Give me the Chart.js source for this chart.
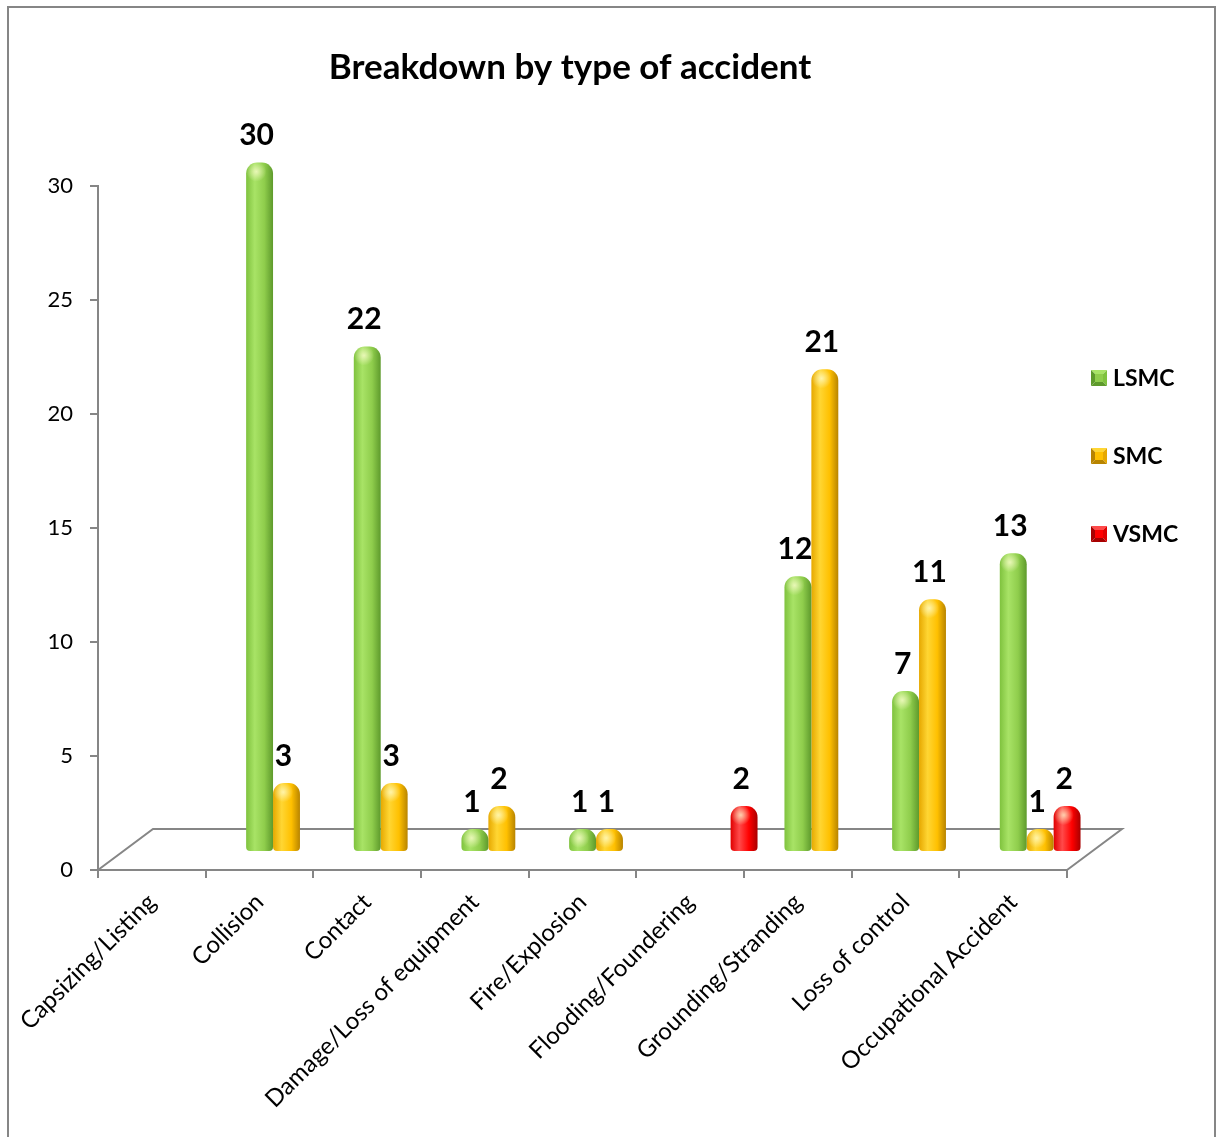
<!DOCTYPE html>
<html>
<head>
<meta charset="utf-8">
<title>Breakdown by type of accident</title>
<script src="https://cdn.jsdelivr.net/npm/chart.js@4.4.1/dist/chart.umd.min.js"></script>
<style>
  html, body { margin: 0; padding: 0; background: #ffffff; }
  canvas { display: block; }
</style>
</head>
<body>
<canvas id="chart" width="1217" height="1137"></canvas>
<script>
// Accident categories
const categories = [
  'Capsizing/Listing',
  'Collision',
  'Contact',
  'Damage/Loss of equipment',
  'Fire/Explosion',
  'Flooding/Foundering',
  'Grounding/Stranding',
  'Loss of control',
  'Occupational Accident'
];

// Number of accidents per vessel size class (null = no bar)
const lsmcValues = [null, 30, 22, 1, 1, null, 12, 7, 13];
const smcValues  = [null, 3, 3, 2, 1, null, 21, 11, 1];
const vsmcValues = [null, null, null, null, null, 2, null, null, 2];

const seriesNames = ['LSMC', 'SMC', 'VSMC'];

// Value axis ticks
const yMin = 0;
const yMax = 30;
const yStep = 5;

// Cylinder shading: [left edge, highlight, body, right edge]
const palette = {
  LSMC: ['#7fc23e', '#a8e366', '#8fcd4c', '#5e9a2c'],
  SMC:  ['#e6a800', '#ffd633', '#ffc000', '#b88400'],
  VSMC: ['#e00000', '#ff4a4a', '#ff0000', '#a80000']
};

const FONT = 'Lato, "Open Sans", "DejaVu Sans", sans-serif';
const GRAY = '#868686';
const CAT_PCT = 0.75;

// 3D depth: bars stand halfway into the floor
const DEPTH_X = 27;
const DEPTH_Y = 18;
const DEPTH_STRETCH = 1.008;
const FLOOR_X = 55;
const FLOOR_Y = 41;

function cylinderFill(name) {
  const c = palette[name];
  return function (ctx) {
    const chart = ctx.chart;
    const xs = chart.scales && chart.scales.x;
    if (ctx.type !== 'data' || !xs || xs.ticks == null || xs.ticks.length < 2) return c[2];
    const step = xs.getPixelForValue(1) - xs.getPixelForValue(0);
    const bw = step * CAT_PCT / 3;
    const cx = xs.getPixelForValue(ctx.dataIndex) + (ctx.datasetIndex - 1) * bw;
    const left = cx - bw / 2;
    if (!isFinite(left)) return c[2];
    const g = chart.ctx.createLinearGradient(left, 0, left + bw, 0);
    g.addColorStop(0, c[0]);
    g.addColorStop(0.32, c[1]);
    g.addColorStop(0.68, c[2]);
    g.addColorStop(1, c[3]);
    return g;
  };
}

function makeDataset(name, values) {
  return {
    label: name,
    data: values,
    backgroundColor: cylinderFill(name),
    borderWidth: 0,
    borderSkipped: false,
    borderRadius: { topLeft: 11, topRight: 11, bottomLeft: 4, bottomRight: 4 },
    categoryPercentage: CAT_PCT,
    barPercentage: 1.0,
    clip: false
  };
}

// Outer frame of the chart
const framePlugin = {
  id: 'frame',
  beforeDraw(chart) {
    const ctx = chart.ctx;
    ctx.save();
    ctx.fillStyle = '#ffffff';
    ctx.fillRect(0, 0, chart.width, chart.height);
    ctx.strokeStyle = GRAY;
    ctx.lineWidth = 2;
    ctx.strokeRect(8, 7, chart.width - 10, chart.height + 20);
    ctx.restore();
  }
};

// Floor of the 3D plot, then shift the bars into depth
const depthPlugin = {
  id: 'depth',
  beforeDatasetsDraw(chart) {
    const { ctx, chartArea: a } = chart;
    ctx.save();
    ctx.strokeStyle = GRAY;
    ctx.lineWidth = 2;
    ctx.beginPath();
    ctx.moveTo(a.left, a.bottom);
    ctx.lineTo(a.left + FLOOR_X, a.bottom - FLOOR_Y);
    ctx.lineTo(a.right + FLOOR_X, a.bottom - FLOOR_Y);
    ctx.lineTo(a.right, a.bottom);
    ctx.stroke();
    ctx.translate(DEPTH_X, -DEPTH_Y + a.bottom);
    ctx.scale(1, DEPTH_STRETCH);
    ctx.translate(0, -a.bottom);
  },
  afterDatasetsDraw(chart) {
    const ctx = chart.ctx;
    // soft highlight on each cylinder cap
    chart.data.datasets.forEach((ds, di) => {
      const meta = chart.getDatasetMeta(di);
      meta.data.forEach((el, i) => {
        if (ds.data[i] == null) return;
        const hx = el.x - el.width * 0.12;
        const hy = el.y + 9;
        const g = ctx.createRadialGradient(hx, hy, 0, hx, hy, 10);
        g.addColorStop(0, 'rgba(255,255,210,0.75)');
        g.addColorStop(1, 'rgba(255,255,210,0)');
        ctx.fillStyle = g;
        ctx.beginPath();
        ctx.arc(hx, hy, 10, 0, Math.PI * 2);
        ctx.fill();
      });
    });
    // value labels above the bars
    ctx.fillStyle = '#000000';
    ctx.font = 'bold 30px ' + FONT;
    ctx.textAlign = 'center';
    ctx.textBaseline = 'alphabetic';
    chart.data.datasets.forEach((ds, di) => {
      const meta = chart.getDatasetMeta(di);
      meta.data.forEach((el, i) => {
        const v = ds.data[i];
        if (v == null) return;
        ctx.fillText(String(v), el.x - 3, el.y - 17);
      });
    });
    ctx.restore();
  }
};

// Legend at the right with bevelled colour keys
const legendPlugin = {
  id: 'sideLegend',
  afterDraw(chart) {
    const { ctx, chartArea: a } = chart;
    ctx.save();
    const x0 = a.right + 24;
    const size = 16;
    chart.data.datasets.forEach((ds, i) => {
      const c = palette[ds.label];
      const cy = a.top + 192 + i * 78;
      const y0 = cy - size / 2;
      const s = size;
      const m = 4;
      const face = (pts, col) => {
        ctx.fillStyle = col;
        ctx.beginPath();
        ctx.moveTo(pts[0][0], pts[0][1]);
        for (let k = 1; k < pts.length; k++) ctx.lineTo(pts[k][0], pts[k][1]);
        ctx.closePath();
        ctx.fill();
      };
      face([[x0, y0], [x0 + s, y0], [x0 + s - m, y0 + m], [x0 + m, y0 + m]], c[1]);
      face([[x0, y0], [x0 + m, y0 + m], [x0 + m, y0 + s - m], [x0, y0 + s]], c[3]);
      face([[x0 + s, y0], [x0 + s, y0 + s], [x0 + s - m, y0 + s - m], [x0 + s - m, y0 + m]], c[0]);
      face([[x0, y0 + s], [x0 + m, y0 + s - m], [x0 + s - m, y0 + s - m], [x0 + s, y0 + s]], c[3]);
      ctx.fillStyle = c[2];
      ctx.fillRect(x0 + m, y0 + m, s - 2 * m, s - 2 * m);
      ctx.fillStyle = '#000000';
      ctx.font = 'bold 23px ' + FONT;
      ctx.textAlign = 'left';
      ctx.textBaseline = 'middle';
      ctx.fillText(ds.label, x0 + size + 6, cy + 1);
    });
    ctx.restore();
  }
};

new Chart(document.getElementById('chart'), {
  type: 'bar',
  data: {
    labels: categories,
    datasets: [
      makeDataset(seriesNames[0], lsmcValues),
      makeDataset(seriesNames[1], smcValues),
      makeDataset(seriesNames[2], vsmcValues)
    ]
  },
  options: {
    responsive: false,
    animation: false,
    devicePixelRatio: 1,
    layout: { padding: { left: 8, right: 85, top: 0, bottom: 0 } },
    plugins: {
      legend: { display: false },
      tooltip: { enabled: false },
      title: {
        display: true,
        text: 'Breakdown by type of accident',
        color: '#000000',
        font: { family: FONT, size: 35, weight: 'bold' },
        padding: { top: 47, bottom: 97 }
      }
    },
    scales: {
      x: {
        grid: {
          display: true,
          drawOnChartArea: false,
          drawTicks: true,
          tickLength: 8,
          color: GRAY,
          lineWidth: 2,
          offset: true
        },
        border: { display: true, color: GRAY, width: 2 },
        ticks: {
          color: '#000000',
          font: { family: FONT, size: 24 },
          minRotation: 45,
          maxRotation: 45,
          autoSkip: false,
          padding: 10
        },
        afterFit(scale) { scale.height = 267; }
      },
      y: {
        min: yMin,
        max: yMax,
        grid: {
          display: true,
          drawOnChartArea: false,
          drawTicks: true,
          tickLength: 8,
          color: GRAY,
          lineWidth: 2
        },
        border: { display: true, color: GRAY, width: 2 },
        ticks: {
          stepSize: yStep,
          color: '#000000',
          font: { family: FONT, size: 22 },
          padding: 17
        },
        afterFit(scale) { scale.width = 90; }
      },
      // empty band on the right that keeps room for the legend
      legendBand: {
        type: 'linear',
        position: 'right',
        display: true,
        grid: { display: false },
        border: { display: false },
        ticks: { display: false },
        afterFit(scale) { scale.width = 65; }
      }
    }
  },
  plugins: [framePlugin, depthPlugin, legendPlugin]
});
</script>
</body>
</html>
